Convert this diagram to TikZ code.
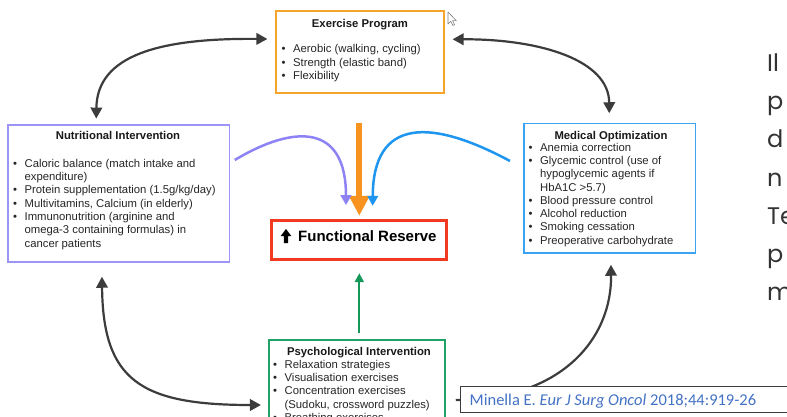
\documentclass[tikz,border=0pt]{standalone}
\usepackage{fontspec}
\setmainfont{Liberation Sans}
\newfontfamily\citefont{Carlito}
\newfontfamily\slidefont{Poppins}
\usetikzlibrary{arrows.meta}
\definecolor{orangeB}{HTML}{F5A52A}
\definecolor{orangeA}{HTML}{F7931E}
\definecolor{purpA}{HTML}{8E83F5}
\definecolor{purpB}{HTML}{9C95F7}
\definecolor{blueA}{HTML}{1E96F0}
\definecolor{blueB}{HTML}{3BA3F2}
\definecolor{redB}{HTML}{F23A22}
\definecolor{greenB}{HTML}{21A266}
\definecolor{greenA}{HTML}{14985A}
\definecolor{darkA}{HTML}{3C3C3C}
\definecolor{citeblue}{HTML}{4472C4}
\definecolor{slidegray}{HTML}{333333}
\newcommand{\bl}{\textbullet}
\newenvironment{blist}{\begin{tabular}[t]{@{}l@{\hspace{7.5pt}}l@{}}}{\end{tabular}}
\begin{document}
\begin{tikzpicture}[x=1pt,y=-1pt,
  box/.style={draw, line width=1.5pt, inner sep=0pt, rectangle},
  txt/.style={inner sep=0pt, anchor=base west, font=\fontsize{11.3}{13.3}\selectfont, text=black!85},
  ttl/.style={inner sep=0pt, anchor=base, font=\bfseries\fontsize{11.3}{13.3}\selectfont, text=black!90},
  darr/.style={draw=darkA, line width=2.2pt},
  dtip/.tip={Triangle[length=11pt,width=11.5pt]},
  side/.style={inner sep=0pt, anchor=base west, font=\slidefont\fontsize{24}{28}\selectfont, text=slidegray}
]
\useasboundingbox (0,0) rectangle (787,417);
\fill[white] (0,0) rectangle (787,417);
\begin{scope}
\clip (0,0) rectangle (787,417);

% boxes
\node[box, draw=orangeB, line width=1.8pt, minimum width=168pt, minimum height=82.3pt] (ex) at (360,52.15) {};
\node[box, draw=purpB, minimum width=221.3pt, minimum height=137pt] (nut) at (118.65,193.5) {};
\node[box, draw=blueB, minimum width=171.7pt, minimum height=129.7pt] (med) at (609.85,188.15) {};
\node[box, draw=redB, line width=3pt, minimum width=174.3pt, minimum height=39.3pt] (fr) at (358.85,239.65) {};
\node[box, draw=greenB, minimum width=176pt, minimum height=100pt] (ps) at (357,390) {};

% texts
\node[ttl] (ext0) at (360,27.4) {Exercise Program};
\node[txt] (ext) at (281.5,53) {\begin{blist}
\bl & Aerobic (walking, cycling)\\
\bl & Strength (elastic band)\\
\bl & Flexibility
\end{blist}};

\node[ttl] (nutt0) at (118,140) {Nutritional Intervention};
\node[txt] (nutt) at (13,167.3) {\begin{blist}
\bl & Caloric balance (match intake and\\
 & expenditure)\\
\bl & Protein supplementation (1.5g/kg/day)\\
\bl & Multivitamins, Calcium (in elderly)\\
\bl & Immunonutrition (arginine and\\
 & omega-3 containing formulas) in\\
 & cancer patients
\end{blist}};

\node[ttl] (medt0) at (611,140) {Medical Optimization};
\node[txt] (medt) at (528.5,151.2) {\begin{blist}
\bl & Anemia correction\\
\bl & Glycemic control (use of\\
 & hypoglycemic agents if\\
 & HbA1C >5.7)\\
\bl & Blood pressure control\\
\bl & Alcohol reduction\\
\bl & Smoking cessation\\
\bl & Preoperative carbohydrate
\end{blist}};

\node[ttl] (pst0) at (359,355.7) {Psychological Intervention};
\node[txt] (pst) at (273,368.3) {\begin{blist}
\bl & Relaxation strategies\\
\bl & Visualisation exercises\\
\bl & Concentration exercises\\
 & (Sudoku, crossword puzzles)\\
\bl & Breathing exercises
\end{blist}};

\node[inner sep=0pt, anchor=base west, font=\bfseries\fontsize{15}{18}\selectfont] (frt) at (298,241.7) {Functional Reserve};
\fill (286,229) -- (291.3,236) -- (288.2,236) -- (288.2,243) -- (283.8,243) -- (283.8,236) -- (280.7,236) -- cycle;

% dark double arrows
\draw[darr, dtip-dtip] ([shift={(89pt,5.7pt)}]nut.north west) .. controls (97,55) and (160,38) .. ([shift={(-7.7pt,13.15pt)}]ex.west);
\draw[darr, dtip-dtip] ([shift={(7.7pt,12.85pt)}]ex.east) .. controls (540,39) and (609,60) .. ([shift={(86pt,9.3pt)}]med.north west);
\draw[darr, dtip-dtip] ([shift={(94.7pt,-14pt)}]nut.south west) .. controls (103,380) and (140,405) .. ([shift={(-7.3pt,-15pt)}]ps.west);
\draw[darr, -dtip] ([shift={(10pt,-10pt)}]ps.east) .. controls (560,400) and (611.7,340) .. ([shift={(87.7pt,-11pt)}]med.south west);

% arrows into functional reserve
\coordinate (otop) at (359.3,122.7);
\draw[orangeA, line width=6pt, -{Triangle[length=20pt,width=19.5pt]}] (otop) -- ([shift={(0.45pt,2.7pt)}]fr.north);
\draw[purpA, line width=2.5pt, -{Triangle[length=10pt,width=10.5pt]}] ([shift={(4.7pt,33.5pt)}]nut.east) .. controls (295,124) and (346,124) .. ([shift={(-12.85pt,13.3pt)}]fr.north);
\draw[blueA, line width=2.5pt, -{Triangle[length=10pt,width=10.5pt]}] ([shift={(-13.3pt,27.15pt)}]med.west) .. controls (430,118) and (373,118) .. ([shift={(13.85pt,12.7pt)}]fr.north);
\draw[draw=greenA, fill=greenA, line width=2pt, -{Triangle[length=9pt,width=9pt]}] ([shift={(2.3pt,6.7pt)}]ps.north) -- ([shift={(0.45pt,-12.4pt)}]fr.south);

% citation
\node[draw=darkA, line width=0.8pt, fill=white, minimum width=340pt, minimum height=26.3pt, inner sep=0pt] (cit) at (630,399.15) {};
\node[inner sep=0pt, anchor=base west, font=\citefont\fontsize{16.5}{19}\selectfont, text=citeblue] (citt) at (469.5,405.7) {Minella E. \textit{Eur J Surg Oncol} 2018;44:919-26};

% slide text at right edge
\node[side] (s1) at (767,71.7) {Il};
\node[side] (s2) at (767,109.8) {p};
\node[side] (s3) at (767,147.9) {d};
\node[side] (s4) at (767,186) {n};
\node[side] (s5) at (767,224.1) {Te};
\node[side] (s6) at (767,262.2) {p};
\node[side] (s7) at (767,300.3) {m};

% mouse cursor
\draw[gray, fill=white, line width=0.6pt, line join=round] (448,12) -- (448,24) -- (450.8,21.3) -- (452.8,25.5) -- (454.6,24.7) -- (452.6,20.6) -- (456.3,20.6) -- cycle;
\end{scope}
\end{tikzpicture}
\end{document}
